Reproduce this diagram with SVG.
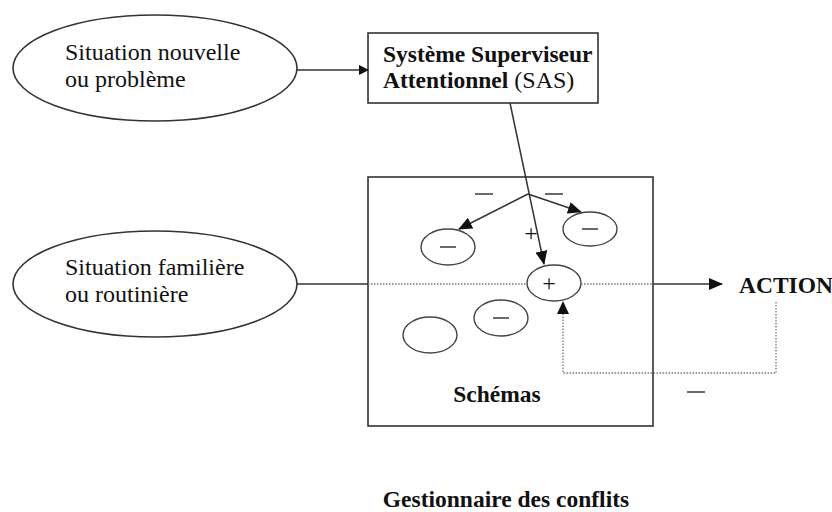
<svg xmlns="http://www.w3.org/2000/svg" width="832" height="512" viewBox="0 0 832 512">
<defs>
<marker id="ah" markerWidth="10" markerHeight="10" refX="9" refY="5" orient="auto" markerUnits="userSpaceOnUse" viewBox="0 0 10 10">
<path d="M0,0 L10,5 L0,10 z" fill="#111"/>
</marker>
<marker id="ahs" markerWidth="14" markerHeight="12" refX="13" refY="6" orient="auto" markerUnits="userSpaceOnUse" viewBox="0 0 14 12">
<path d="M0,0 L14,6 L0,12 z" fill="#111"/>
</marker>
</defs>
<style>
.t{font-family:"Liberation Serif","Times New Roman",serif;font-size:24px;fill:#111}
.b{font-weight:bold;font-size:23.5px}
.shape{fill:#fff;stroke:#333;stroke-width:1.6}
.small{fill:#fff;stroke:#444;stroke-width:1.4}
.ln{fill:none;stroke:#333;stroke-width:1.5}
.dot{fill:none;stroke:#777;stroke-width:1.3;stroke-dasharray:1.5 1.5}
.dash{stroke:#444;stroke-width:1.6}
</style>
<rect width="832" height="512" fill="#fff"/>

<g id="schemas">
<rect class="shape" x="368" y="177" width="285" height="249"/>
<text class="t b" x="497" y="402" text-anchor="middle">Schémas</text>
</g>

<g id="situation-nouvelle">
<ellipse class="shape" cx="155" cy="68" rx="142" ry="53"/>
<text class="t" x="65" y="60">Situation nouvelle</text>
<text class="t" x="65" y="87">ou problème</text>
</g>

<g id="sas">
<rect class="shape" x="368" y="33" width="230" height="70"/>
<text class="t b" x="383" y="62">Système Superviseur</text>
<text class="t" x="383" y="88"><tspan class="b">Attentionnel</tspan> (SAS)</text>
</g>

<g id="situation-familiere">
<ellipse class="shape" cx="155" cy="284" rx="142" ry="53"/>
<text class="t" x="65" y="275">Situation familière</text>
<text class="t" x="65" y="302">ou routinière</text>
</g>

<g id="schema-minus-left">
<ellipse class="small" cx="448" cy="247" rx="27" ry="18"/>
<line class="dash" x1="440" y1="247" x2="456" y2="247"/>
</g>
<g id="schema-minus-right">
<ellipse class="small" cx="590" cy="229" rx="27" ry="17"/>
<line class="dash" x1="582" y1="229" x2="598" y2="229"/>
</g>
<g id="schema-plus">
<ellipse class="small" cx="554" cy="283" rx="27" ry="18"/>
<text class="t" x="549" y="291" text-anchor="middle" font-size="22">+</text>
</g>
<g id="schema-empty">
<ellipse class="small" cx="430" cy="335" rx="27" ry="18"/>
</g>
<g id="schema-minus-bottom">
<ellipse class="small" cx="501" cy="318" rx="27" ry="18"/>
<line class="dash" x1="493" y1="318" x2="509" y2="318"/>
</g>

<g id="action">
<text class="t b" x="739" y="293">ACTION</text>
</g>

<g id="title">
<text class="t b" x="506" y="507" text-anchor="middle">Gestionnaire des conflits</text>
</g>

<g id="connectors">
<line class="ln" x1="297" y1="70" x2="368" y2="70" marker-end="url(#ah)"/>
<line class="ln" x1="510" y1="103" x2="544" y2="264" marker-end="url(#ahs)"/>
<line class="ln" x1="528" y1="194" x2="459" y2="229" marker-end="url(#ahs)"/>
<line class="ln" x1="528" y1="194" x2="581" y2="212" marker-end="url(#ahs)"/>
<line class="ln" x1="297" y1="284" x2="368" y2="284"/>
<line class="dot" x1="368" y1="284" x2="527" y2="284"/>
<line class="dot" x1="581" y1="284" x2="653" y2="284"/>
<line class="ln" x1="653" y1="284" x2="722" y2="284" marker-end="url(#ahs)"/>
<polyline class="dot" points="776,302 776,373 563,373 563,314"/>
<path d="M557,314 L563,301 L569,314 z" fill="#111"/>
<line class="dash" x1="475" y1="194" x2="493" y2="194"/>
<line class="dash" x1="545" y1="194" x2="563" y2="194"/>
<text class="t" x="531" y="241" text-anchor="middle" font-size="22">+</text>
<line class="dash" x1="687" y1="392" x2="705" y2="392"/>
</g>
</svg>
